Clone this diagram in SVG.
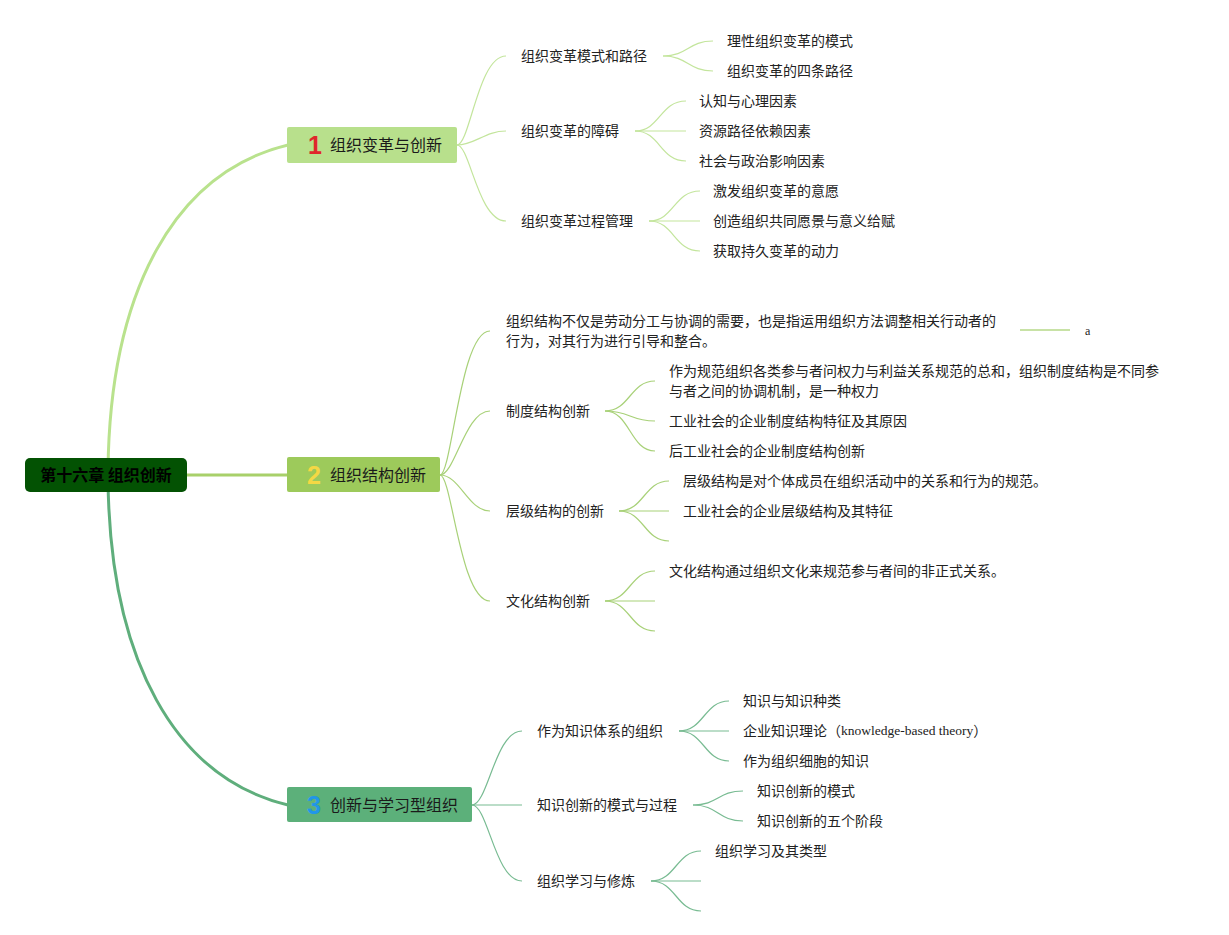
<svg xmlns="http://www.w3.org/2000/svg" width="1229" height="935" viewBox="0 0 1229 935">
<style>
.t{font-family:"Noto Sans CJK SC","Liberation Sans",sans-serif;font-size:14px;fill:#222;dominant-baseline:central}
.bt{font-family:"Noto Sans CJK SC","Liberation Sans",sans-serif;font-size:16px;fill:#1a1a1a;dominant-baseline:central}
.num{font-family:"Liberation Sans","Noto Sans",sans-serif;font-size:25px;font-weight:bold;dominant-baseline:central;text-anchor:middle}
.c1{fill:none;stroke:#c3e59c;stroke-width:1.2}
.c2{fill:none;stroke:#a8d178;stroke-width:1.2}
.c3{fill:none;stroke:#78bb92;stroke-width:1.2}
.m{fill:none;stroke-width:3}
.serif{font-family:"Liberation Serif",serif}
</style>
<rect width="1229" height="935" fill="#ffffff"/>
<g id="connectors">
  <path class="m" stroke="#b9e28d" d="M108 470 C110 290 175 172 288 145"/>
  <path class="m" stroke="#a8d06a" d="M187 475 L288 475"/>
  <path class="m" stroke="#5fae7c" d="M108 480 C110 660 175 778 288 805"/>
  <!-- branch 1 -->
  <path class="c1" d="M457 145 C470 145 478 56 506 56"/>
  <path class="c1" d="M457 145 C475 145 485 131 506 131"/>
  <path class="c1" d="M457 145 C470 145 478 221 506 221"/>
  <path class="c1" d="M663 56 C688 56 688 41 713 41"/>
  <path class="c1" d="M663 56 C688 56 688 71 713 71"/>
  <path class="c1" d="M635 131 C660 131 660 101 686 101"/>
  <path class="c1" d="M635 131 L686 131"/>
  <path class="c1" d="M635 131 C660 131 660 161 686 161"/>
  <path class="c1" d="M649 221 C674 221 674 191 700 191"/>
  <path class="c1" d="M649 221 L700 221"/>
  <path class="c1" d="M649 221 C674 221 674 251 700 251"/>
  <!-- branch 2 -->
  <path class="c2" d="M440 475 C452 475 460 331 490 331"/>
  <path class="c2" d="M440 475 C455 475 465 411 490 411"/>
  <path class="c2" d="M440 475 C460 475 468 511 490 511"/>
  <path class="c2" d="M440 475 C452 475 460 601 490 601"/>
  <path fill="none" stroke="#c8e2a6" stroke-width="2" d="M1020 330 L1070 330"/>
  <path class="c2" d="M605 411 C630 411 630 381 655 381"/>
  <path class="c2" d="M605 411 C630 411 630 421 655 421"/>
  <path class="c2" d="M605 411 C630 411 630 451 655 451"/>
  <path class="c2" d="M619 511 C644 511 644 481 669 481"/>
  <path class="c2" d="M619 511 L669 511"/>
  <path class="c2" d="M619 511 C644 511 644 541 669 541"/>
  <path class="c2" d="M605 601 C630 601 630 571 655 571"/>
  <path class="c2" d="M605 601 L655 601"/>
  <path class="c2" d="M605 601 C630 601 630 631 655 631"/>
  <!-- branch 3 -->
  <path class="c3" d="M472 805 C488 805 495 731 522 731"/>
  <path class="c3" d="M472 805 L522 805"/>
  <path class="c3" d="M472 805 C488 805 495 881 522 881"/>
  <path class="c3" d="M679 731 C704 731 704 701 729 701"/>
  <path class="c3" d="M679 731 L729 731"/>
  <path class="c3" d="M679 731 C704 731 704 761 729 761"/>
  <path class="c3" d="M693 805 C718 805 718 791 743 791"/>
  <path class="c3" d="M693 805 C718 805 718 821 743 821"/>
  <path class="c3" d="M651 881 C676 881 676 851 701 851"/>
  <path class="c3" d="M651 881 L701 881"/>
  <path class="c3" d="M651 881 C676 881 676 911 701 911"/>
</g>
<g id="root">
  <rect x="25" y="458" width="162" height="34" rx="5" fill="#035203"/>
  <text x="106" y="474" text-anchor="middle" style="font-family:'Noto Sans CJK SC','Liberation Sans',sans-serif;font-size:16px;font-weight:bold;fill:#000;dominant-baseline:central">第十六章 组织创新</text>
</g>
<g id="branch1">
  <rect x="287" y="127" width="170" height="36" rx="2" fill="#b8e08c"/>
  <text class="num" x="315" y="145" fill="#e0262b">1</text>
  <text class="bt" x="330" y="144">组织变革与创新</text>
</g>
<g id="branch2">
  <rect x="287" y="457" width="153" height="35" rx="2" fill="#9dca5b"/>
  <text class="num" x="314" y="475" fill="#f4d844">2</text>
  <text class="bt" x="330" y="474">组织结构创新</text>
</g>
<g id="branch3">
  <rect x="287" y="787" width="185" height="35" rx="2" fill="#5cb07a"/>
  <text class="num" x="314" y="805" fill="#2196e8">3</text>
  <text class="bt" x="330" y="804">创新与学习型组织</text>
</g>
<g transform="translate(0,-1)">
<g id="b1-sub1"><text class="t" x="521" y="56">组织变革模式和路径</text></g>
<g id="b1-sub1-1"><text class="t" x="727" y="41">理性组织变革的模式</text></g>
<g id="b1-sub1-2"><text class="t" x="727" y="71">组织变革的四条路径</text></g>
<g id="b1-sub2"><text class="t" x="521" y="131">组织变革的障碍</text></g>
<g id="b1-sub2-1"><text class="t" x="699" y="101">认知与心理因素</text></g>
<g id="b1-sub2-2"><text class="t" x="699" y="131">资源路径依赖因素</text></g>
<g id="b1-sub2-3"><text class="t" x="699" y="161">社会与政治影响因素</text></g>
<g id="b1-sub3"><text class="t" x="521" y="221">组织变革过程管理</text></g>
<g id="b1-sub3-1"><text class="t" x="713" y="191">激发组织变革的意愿</text></g>
<g id="b1-sub3-2"><text class="t" x="713" y="221">创造组织共同愿景与意义给赋</text></g>
<g id="b1-sub3-3"><text class="t" x="713" y="251">获取持久变革的动力</text></g>
<g id="b2-sub1">
  <text class="t" x="506" y="321">组织结构不仅是劳动分工与协调的需要，也是指运用组织方法调整相关行动者的</text>
  <text class="t" x="506" y="341">行为，对其行为进行引导和整合。</text>
</g>
<g id="b2-sub1-1"><text x="1085" y="332" style="font-family:'Liberation Serif',serif;font-size:12px;fill:#222;dominant-baseline:central">a</text></g>
<g id="b2-sub2"><text class="t" x="506" y="411">制度结构创新</text></g>
<g id="b2-sub2-1">
  <text class="t" x="669" y="371">作为规范组织各类参与者问权力与利益关系规范的总和，组织制度结构是不同参</text>
  <text class="t" x="669" y="391">与者之间的协调机制，是一种权力</text>
</g>
<g id="b2-sub2-2"><text class="t" x="669" y="421">工业社会的企业制度结构特征及其原因</text></g>
<g id="b2-sub2-3"><text class="t" x="669" y="451">后工业社会的企业制度结构创新</text></g>
<g id="b2-sub3"><text class="t" x="506" y="511">层级结构的创新</text></g>
<g id="b2-sub3-1"><text class="t" x="683" y="481">层级结构是对个体成员在组织活动中的关系和行为的规范。</text></g>
<g id="b2-sub3-2"><text class="t" x="683" y="511">工业社会的企业层级结构及其特征</text></g>
<g id="b2-sub4"><text class="t" x="506" y="601">文化结构创新</text></g>
<g id="b2-sub4-1"><text class="t" x="669" y="571">文化结构通过组织文化来规范参与者间的非正式关系。</text></g>
<g id="b3-sub1"><text class="t" x="537" y="731">作为知识体系的组织</text></g>
<g id="b3-sub1-1"><text class="t" x="743" y="701">知识与知识种类</text></g>
<g id="b3-sub1-2"><text class="t" x="743" y="731">企业知识理论（<tspan class="serif" style="font-size:13.5px">knowledge-based theory</tspan>）</text></g>
<g id="b3-sub1-3"><text class="t" x="743" y="761">作为组织细胞的知识</text></g>
<g id="b3-sub2"><text class="t" x="537" y="805">知识创新的模式与过程</text></g>
<g id="b3-sub2-1"><text class="t" x="757" y="791">知识创新的模式</text></g>
<g id="b3-sub2-2"><text class="t" x="757" y="821">知识创新的五个阶段</text></g>
<g id="b3-sub3"><text class="t" x="537" y="881">组织学习与修炼</text></g>
<g id="b3-sub3-1"><text class="t" x="715" y="851">组织学习及其类型</text></g>
</g>
</svg>
